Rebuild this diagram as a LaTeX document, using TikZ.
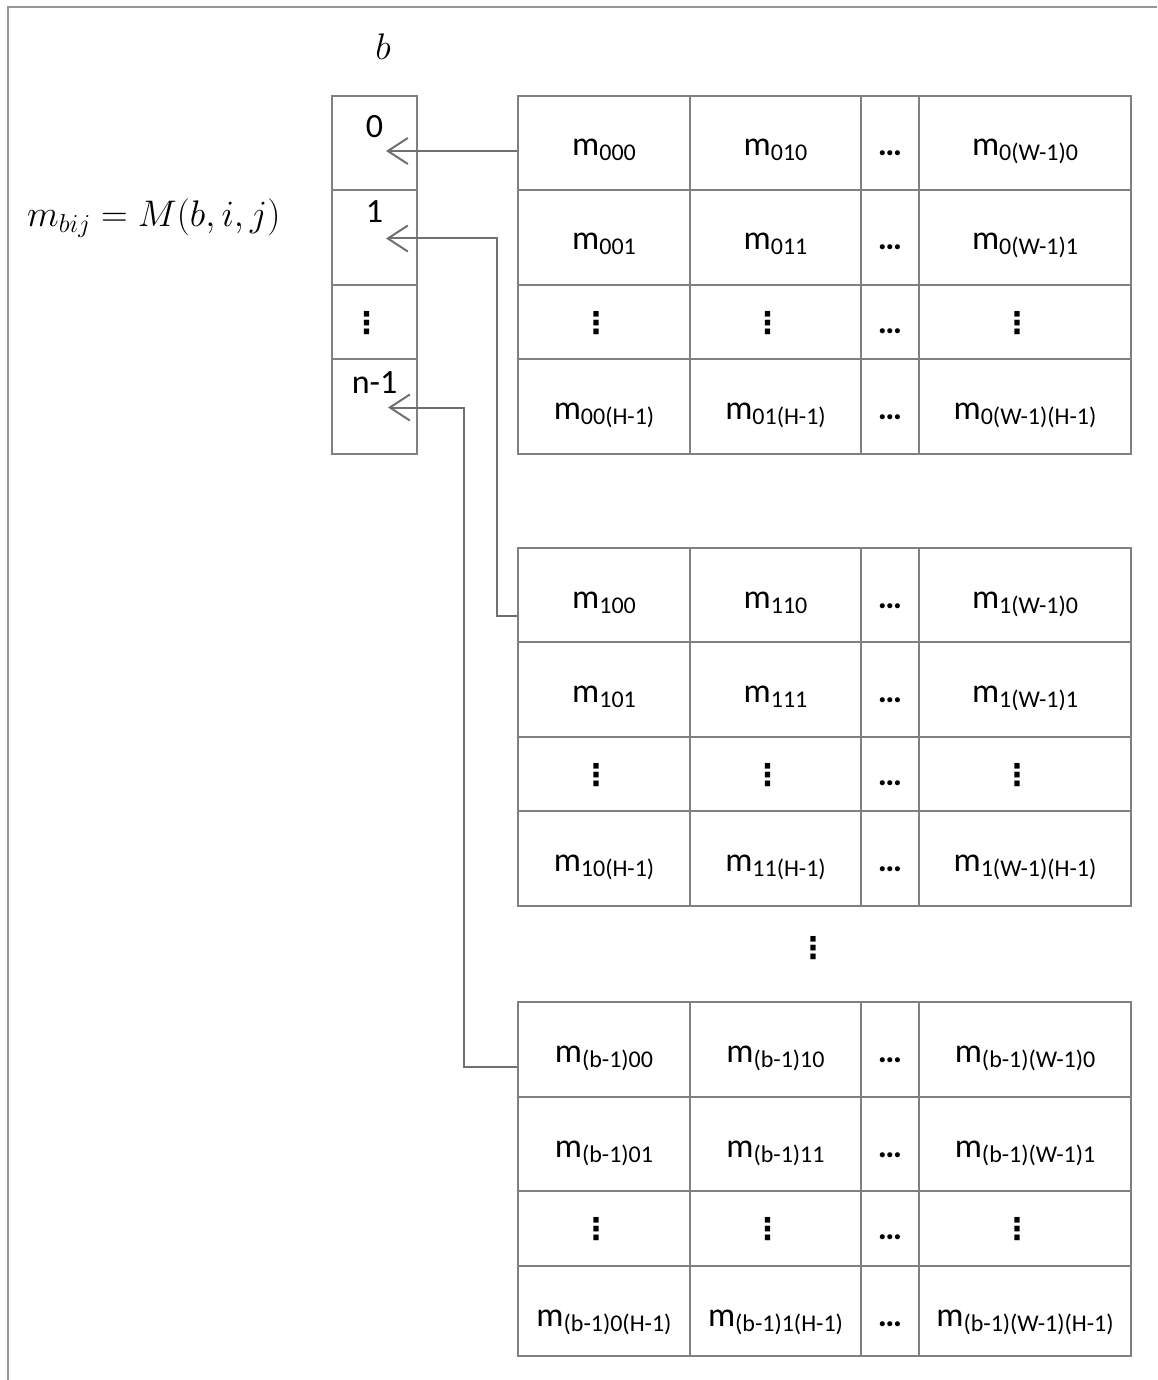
\RequirePackage{fix-cm}
\documentclass[tikz,border=0pt]{standalone}
\usepackage{fontspec}
\newfontfamily\cf{Carlito}
\newfontfamily\dv{DejaVu Sans}
\usetikzlibrary{arrows.meta}
\definecolor{ln}{RGB}{128,128,128}
\definecolor{ar}{RGB}{112,112,112}
\definecolor{fr}{RGB}{150,150,150}
\newcommand\mc[1]{m\raisebox{-5pt}{\fontsize{24}{26}\selectfont #1}}
\newcommand\vdglyph{{\dv\bfseries\fontsize{30}{32}\selectfont ⋮}}
\newcommand\vd{\vdglyph\kern16pt}
\newcommand\hd{{\bfseries …}}
\newcommand\tabrow[8]{%
  \node[cell,minimum width=172,minimum height=#3,text height=#4] (#1c1) at (517,#2) {#5};
  \node[cell,minimum width=171,minimum height=#3,text height=#4] (#1c2) at (689,#2) {#6};
  \node[cell,minimum width=58,minimum height=#3,text height=#4] (#1c3) at (860,#2) {#7};
  \node[cell,minimum width=212,minimum height=#3,text height=#4] (#1c4) at (918,#2) {#8};
}
\tikzset{
  cell/.style={draw=ln, line width=2pt, anchor=north west, inner sep=0pt,
    text depth=0pt, font=\cf\fontsize{34}{40}\selectfont},
  acell/.style={draw=ln, line width=2pt, anchor=north west, inner sep=0pt,
    minimum width=85, font=\cf\fontsize{34}{40}\selectfont},
  arr/.style={draw=ar, line width=2pt,
    -{Straight Barb[length=20pt,width=26pt,line width=2pt]}},
  frame/.style={draw=fr, line width=2.5pt},
  mathlbl/.style={inner sep=0pt, font=\fontsize{37}{43}\selectfont}
}
\begin{document}
\begin{tikzpicture}[x=1pt,y=-1pt]
\useasboundingbox (0,0) rectangle (1157,1380);
\draw[frame] (8,1380) -- (8,7) -- (1157,7);
% labels
\node[mathlbl, anchor=base] (blbl) at (383,60) {$b$};
\node[mathlbl, anchor=base west] (formula) at (27,227) {$m_{bij}=M(b,i,j)$};
% index array
\node[acell, minimum height=94, text height=25, text depth=35] (a0) at (331,95) {0};
\node[acell, minimum height=95, text height=25, text depth=54] (a1) at (331,189) {1};
\node[acell, minimum height=74, text height=22, text depth=0] (a2) at (331,284) {\vd};
\node[acell, minimum height=95, text height=25, text depth=52] (a3) at (331,358) {n-1};
% block 0
\tabrow{p0r1}{95}{94}{26}{\mc{000}}{\mc{010}}{\hd}{\mc{0(W-1)0}}
\tabrow{p0r2}{189}{95}{25}{\mc{001}}{\mc{011}}{\hd}{\mc{0(W-1)1}}
\tabrow{p0r3}{284}{74}{22}{\vd}{\vd}{\hd}{\vd}
\tabrow{p0r4}{358}{95}{25}{\mc{00(H-1)}}{\mc{01(H-1)}}{\hd}{\mc{0(W-1)(H-1)}}
% block 1
\tabrow{p1r1}{547}{94}{26}{\mc{100}}{\mc{110}}{\hd}{\mc{1(W-1)0}}
\tabrow{p1r2}{641}{95}{25}{\mc{101}}{\mc{111}}{\hd}{\mc{1(W-1)1}}
\tabrow{p1r3}{736}{74}{22}{\vd}{\vd}{\hd}{\vd}
\tabrow{p1r4}{810}{95}{25}{\mc{10(H-1)}}{\mc{11(H-1)}}{\hd}{\mc{1(W-1)(H-1)}}
% between
\node[inner sep=0pt, anchor=base] (gap) at (813,958) {\vdglyph};
% block b-1
\tabrow{p2r1}{1001}{95}{25}{\mc{(b-1)00}}{\mc{(b-1)10}}{\hd}{\mc{(b-1)(W-1)0}}
\tabrow{p2r2}{1096}{94}{26}{\mc{(b-1)01}}{\mc{(b-1)11}}{\hd}{\mc{(b-1)(W-1)1}}
\tabrow{p2r3}{1190}{75}{21}{\vd}{\vd}{\hd}{\vd}
\tabrow{p2r4}{1265}{90}{30}{\mc{(b-1)0(H-1)}}{\mc{(b-1)1(H-1)}}{\hd}{\mc{(b-1)(W-1)(H-1)}}
% connectors
\coordinate (tip0) at ([xshift=11.5pt,yshift=-8pt]a0.center);
\coordinate (tip1) at ([xshift=11.5pt,yshift=-1pt]a1.center);
\coordinate (tip2) at ([xshift=13.5pt,yshift=-1pt]a3.center);
\draw[arr] ([yshift=-8pt]p0r1c1.west) -- (tip0);
\draw[arr] ([yshift=-21pt]p1r1c1.west) -- ++(-20,0) |- (tip1);
\draw[arr] ([yshift=-17pt]p2r1c1.west) -- ++(-53,0) |- (tip2);
\end{tikzpicture}
\end{document}
